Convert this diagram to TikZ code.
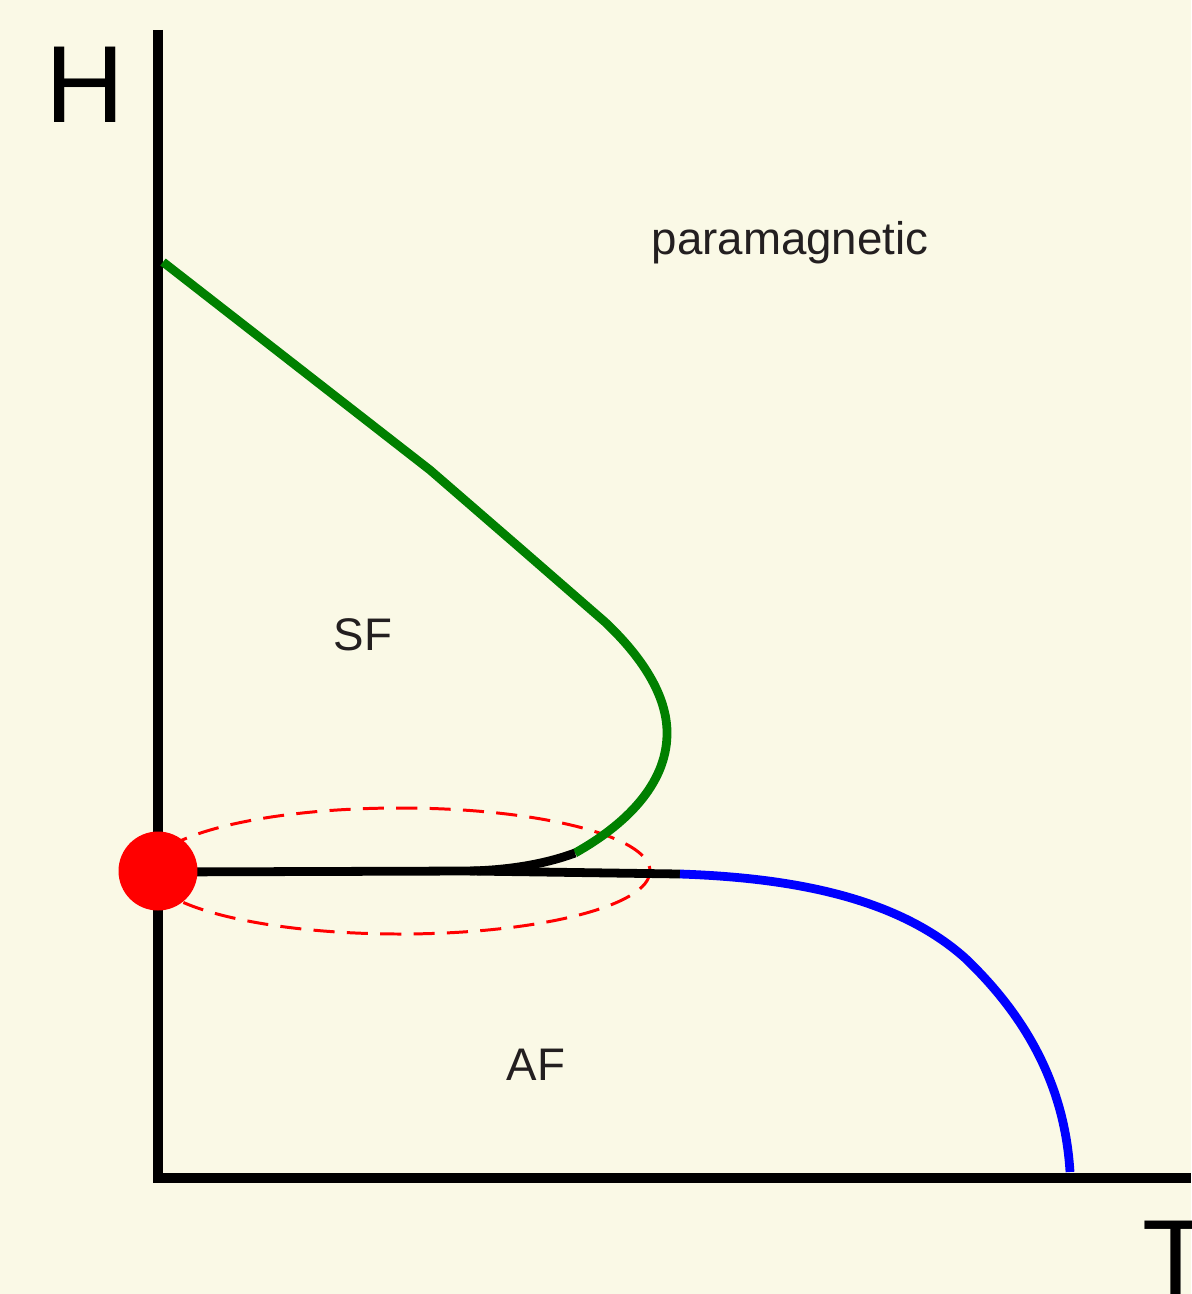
\documentclass[tikz,border=0pt]{standalone}
\usepackage{fontspec}
\setmainfont{Liberation Sans}
\definecolor{bg}{HTML}{FAF9E6}
\definecolor{txt}{HTML}{231F20}
\definecolor{grn}{HTML}{008000}
\begin{document}
\begin{tikzpicture}[x=0.02cm,y=-0.02cm,
  axis/.style={line width=5.8pt,black},
  curve/.style={line width=5pt,line join=round},
  lab/.style={font=\fontsize{26}{30}\selectfont,text=txt,inner sep=0pt},
  biglab/.style={font=\fontsize{62.4}{70}\selectfont,text=black,inner sep=0pt,anchor=base}]
\fill[bg] (0,0) rectangle (1191,1294);
\useasboundingbox (0,0) rectangle (1191,1294);
% axes
\coordinate (top) at (158,30);
\coordinate (orig) at (158,1178);
\coordinate (right) at (1191,1178);
\draw[axis] (top) -- (orig) -- (right);
% labels
\node[biglab] (H) at (85,123) {H};
\node[biglab] (T) at (1176,1296) {T};
\node[lab,anchor=base] (para) at (790,255) {paramagnetic};
\node[lab] (SF) at (363,635) {SF};
\node[lab] (AF) at (536,1065) {AF};
% dashed ellipse
\draw[red,line width=1.7pt,dash pattern=on 12pt off 7pt] (400,871) ellipse [x radius=250, y radius=63];
% green spin-flop boundary
\draw[curve,grn] (163,262) -- (430,470) -- (520,548) -- (605,622)
  .. controls (640,655) and (668,695) .. (667,735)
  .. controls (666,785) and (625,825) .. (575,853);
% black first-order line
\draw[curve,black] (575,853) .. controls (545,864) and (510,870) .. (470,871) -- (160,872);
\draw[curve,black] (470,871) -- (680,874);
% blue AF boundary
\draw[curve,blue] (680,874) .. controls (800,878) and (900,900) .. (965,958)
  .. controls (1030,1020) and (1065,1090) .. (1070,1172);
% bicritical point
\node[circle,fill=red,minimum size=1.58cm,inner sep=0pt] (bc) at (158,871) {};
\end{tikzpicture}
\end{document}
